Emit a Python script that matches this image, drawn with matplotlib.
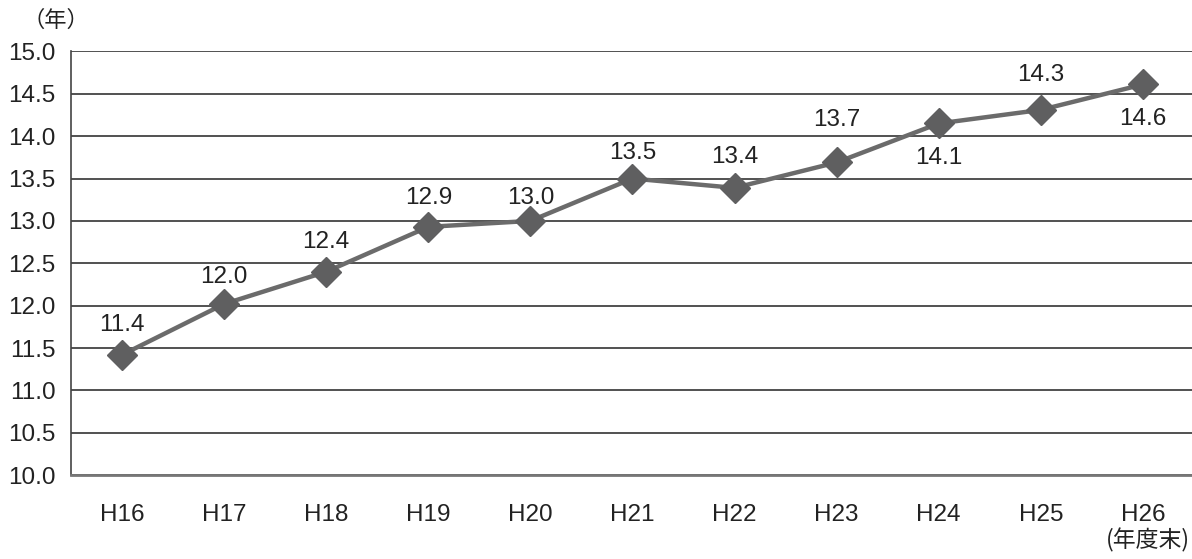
import matplotlib
matplotlib.use("Agg")
import matplotlib.pyplot as plt

plt.rcParams["font.family"] = ["Liberation Sans", "Noto Sans CJK JP", "DejaVu Sans"]

years = ["H16", "H17", "H18", "H19", "H20", "H21", "H22", "H23", "H24", "H25", "H26"]
values = [11.42, 12.02, 12.4, 12.93, 13.0, 13.5, 13.39, 13.69, 14.15, 14.31, 14.61]
labels = ["11.4", "12.0", "12.4", "12.9", "13.0", "13.5", "13.4", "13.7", "14.1", "14.3", "14.6"]

# label offset from the marker, in pixels (positive = above)
label_dy = [30, 27, 30, 29, 23, 26, 31, 42, -35, 35, -35]

fig = plt.figure(figsize=(11.92, 5.59), dpi=100)
ax = fig.add_axes([0.0596, 0.150, 0.942, 0.758])

x = list(range(len(years)))
ax.plot(x, values, color="#6b6b6b", linewidth=3.2, marker="D", markersize=15,
        markerfacecolor="#5f5f60", markeredgecolor="#5f5f60", zorder=3, clip_on=False)

for xi, v, lab, dy in zip(x, values, labels, label_dy):
    ax.annotate(lab, (xi, v), xytext=(0, dy * 0.72), textcoords="offset points",
                ha="center", va="center", fontsize=17.5, color="#222222")

ax.set_xlim(-0.5, len(years) - 0.5)
ax.set_ylim(10.0, 15.0)
ax.set_yticks([10.0 + 0.5 * i for i in range(11)])
ax.set_yticklabels([f"{10.0 + 0.5 * i:.1f}" for i in range(11)])
ax.set_xticks(x)
ax.set_xticklabels(years)
ax.tick_params(axis="both", length=0, labelsize=17.5, colors="#222222")
ax.tick_params(axis="y", pad=11)
ax.tick_params(axis="x", pad=21)

ax.yaxis.grid(True, color="#333333", linewidth=1.2)
ax.set_axisbelow(True)
for s in ["top", "right"]:
    ax.spines[s].set_visible(False)
ax.spines["left"].set_color("#444444")
ax.spines["left"].set_linewidth(1.2)
ax.spines["bottom"].set_color("#777777")
ax.spines["bottom"].set_linewidth(2)

fig.text(0.019, 0.963, "（年）", fontsize=16, color="#222222", va="center", ha="left",
         family=["Noto Sans CJK JP", "DejaVu Sans"])
fig.text(0.998, 0.034, "(年度末)", fontsize=16.5, color="#222222", va="center", ha="right",
         family=["Noto Sans CJK JP", "DejaVu Sans"])

fig.savefig("out.png", dpi=100)
